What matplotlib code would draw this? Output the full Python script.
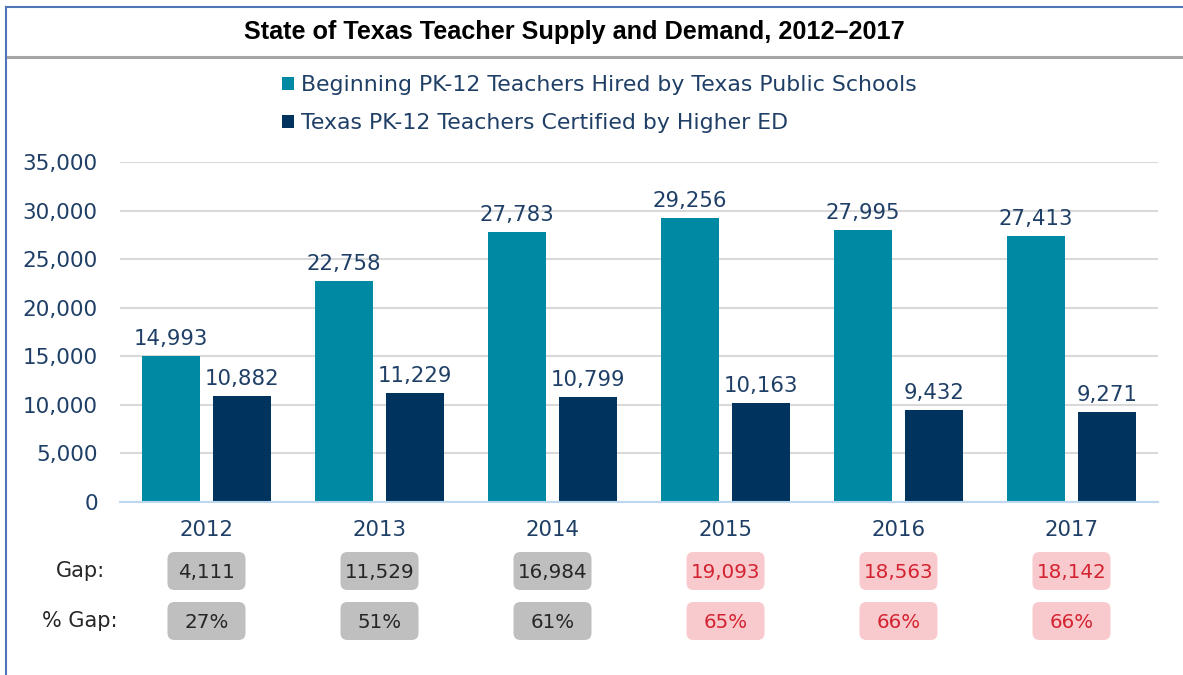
import numpy as np
import matplotlib
matplotlib.use('Agg')
from matplotlib import pyplot as plt
from matplotlib.patches import FancyBboxPatch
from matplotlib.lines import Line2D

years = ['2012', '2013', '2014', '2015', '2016', '2017']
hired = [14993, 22758, 27783, 29256, 27995, 27413]
certified = [10882, 11229, 10799, 10163, 9432, 9271]
gap = [4111, 11529, 16984, 19093, 18563, 18142]
pct_gap = ['27%', '51%', '61%', '65%', '66%', '66%']
highlight = [False, False, False, True, True, True]

series_names = ['Beginning PK-12 Teachers Hired by Texas Public Schools',
                'Texas PK-12 Teachers Certified by Higher ED']

TEAL = '#0089A3'
NAVY = '#00345F'
TXT = '#1F3F66'

plt.rcParams['font.family'] = ['DejaVu Sans']

W, H = 1183, 675
fig = plt.figure(figsize=(W / 100, H / 100), dpi=100)

ax = fig.add_axes([120 / W, 1 - 502 / H, (1158 - 120) / W, (502 - 162) / H])
x = np.arange(len(years))
bw = 0.33
off = bw / 2 + 0.04
b1 = ax.bar(x - off, hired, bw, color=TEAL, zorder=3)
b2 = ax.bar(x + off, certified, bw, color=NAVY, zorder=3)

for bars, vals in [(b1, hired), (b2, certified)]:
    for r, v in zip(bars, vals):
        ax.annotate(f'{v:,}', (r.get_x() + r.get_width() / 2, v), xytext=(0, 5),
                    textcoords='offset points', ha='center', va='bottom',
                    fontsize=15.3, color=TXT)

ax.set_xlim(-0.5, len(years) - 0.5)
ax.set_ylim(0, 35000)
ax.set_yticks(np.arange(0, 35001, 5000))
ax.set_yticklabels([f'{t:,}' for t in range(0, 35001, 5000)])
ax.set_xticks(x)
ax.set_xticklabels(years)
ax.tick_params(axis='y', length=0, pad=16, labelsize=15.5, labelcolor=TXT)
ax.tick_params(axis='x', length=0, pad=13, labelsize=15.3, labelcolor=TXT)
ax.grid(axis='y', color='#D9D9D9', linewidth=1.5, zorder=0)
for s in ['top', 'right', 'left']:
    ax.spines[s].set_visible(False)
ax.spines['bottom'].set_color('#BDD7EE')
ax.spines['bottom'].set_linewidth(1.5)
ax.spines['bottom'].set_zorder(4)

# overlay in pixel units for the frame, gap boxes and labels
ov = fig.add_axes([0, 0, 1, 1])
ov.set_xlim(0, W)
ov.set_ylim(H, 0)
ov.axis('off')
ov.patch.set_alpha(0)

ov.add_line(Line2D([6, W], [7, 7], color='#4F74B8', linewidth=1.5))
ov.add_line(Line2D([6, 6], [7, H], color='#4F74B8', linewidth=1.5))
ov.add_line(Line2D([8, W], [57, 57], color='#A6A6A6', linewidth=2.2))

ov.text(574, 32, 'State of Texas Teacher Supply and Demand, 2012\u20132017',
        ha='center', va='center', fontsize=18.2, fontweight='bold', color='black',
        family=['Liberation Sans', 'DejaVu Sans'])

leg = fig.legend([b1, b2], series_names, loc='upper left',
                 bbox_to_anchor=(282 / W, 1 - 75 / H), frameon=False,
                 borderpad=0, borderaxespad=0,
                 fontsize=15.8, labelcolor=TXT, handlelength=0.55, handleheight=0.55,
                 handletextpad=0.3, labelspacing=0.83)

row_y = [571, 621]
ov.text(80, row_y[0], 'Gap:', ha='center', va='center', fontsize=15, color='#262626')
ov.text(80, row_y[1], '% Gap:', ha='center', va='center', fontsize=15, color='#262626')

bx_w, bx_h = 78, 38
for i, (g, p, hl) in enumerate(zip(gap, pct_gap, highlight)):
    cx = ax.transData.transform((x[i], 0))[0] * W / fig.bbox.width
    face = '#F8C9CD' if hl else '#BFBFBF'
    tc = '#D42330' if hl else '#262626'
    for ry, label in zip(row_y, [f'{g:,}', p]):
        box = FancyBboxPatch((cx - bx_w / 2 + 6, ry - bx_h / 2 + 6), bx_w - 12, bx_h - 12,
                             boxstyle='round,pad=6,rounding_size=7',
                             facecolor=face, edgecolor='none')
        ov.add_patch(box)
        ov.text(cx, ry + 1, label, ha='center', va='center', fontsize=14.3, color=tc)

fig.savefig('out.png', dpi=100)
